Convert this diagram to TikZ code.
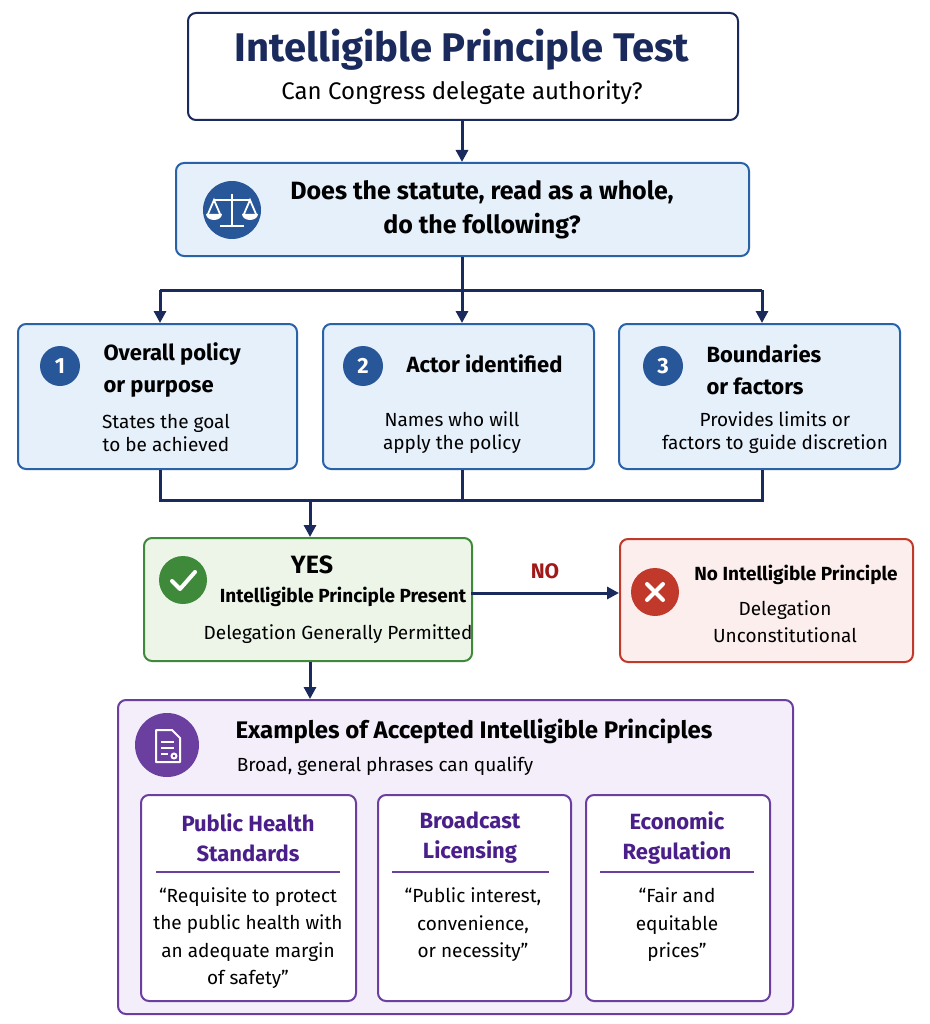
\documentclass[tikz,border=0pt]{standalone}
\usepackage{fontspec}
\setmainfont{Fira Sans}
\usetikzlibrary{positioning, arrows.meta}
\definecolor{navy}{HTML}{1B2A5C}
\definecolor{qblue}{HTML}{2A62A8}
\definecolor{qfill}{HTML}{E6F0FB}
\definecolor{gline}{HTML}{3F8A3A}
\definecolor{gfill}{HTML}{EDF5E8}
\definecolor{rline}{HTML}{C0392B}
\definecolor{rfill}{HTML}{FDEEEE}
\definecolor{pline}{HTML}{6A3FA0}
\definecolor{pfill}{HTML}{F3EEFA}
\definecolor{ptext}{HTML}{4A1F8A}
\definecolor{nored}{HTML}{A01818}
\tikzset{
  box/.style={draw, line width=2pt, rounded corners=8pt, anchor=north west, inner sep=0pt},
  txt/.style={text=black, font=\fontsize{19}{23}\selectfont, align=center},
  head/.style={text=black, font=\bfseries\fontsize{22}{32}\selectfont, align=left},
  badge/.style={circle, fill=qblue!80!navy, text=white, minimum size=40pt, inner sep=0pt, font=\bfseries\fontsize{22}{22}\selectfont},
  flow/.style={draw=navy, line width=3pt},
  arr/.style={flow, -{Triangle[length=12pt,width=12pt]}},
}
\begin{document}
\begin{tikzpicture}[x=1pt, y=-1pt]
\useasboundingbox (0,0) rectangle (929,1024);
% title
\node[box, draw=navy, fill=white, minimum width=550pt, minimum height=107pt] (title) at (187,12) {};
\node[text=navy, font=\bfseries\fontsize{40}{40}\selectfont] (ttl) at (462,50) {Intelligible Principle Test};
\node[txt, font=\fontsize{24}{24}\selectfont] (sub) at (462,93) {Can Congress delegate authority?};
% question
\node[box, draw=qblue, fill=qfill, minimum width=573pt, minimum height=93pt] (q) at (175,162) {};
\node[circle, fill=qblue!80!navy, minimum size=58pt] (scale) at (232,210) {};
\begin{scope}[white, line width=1.8pt]
  \draw (232,194) -- (232,226) (220,226) -- (244,226) (214,200) -- (250,200);
  \draw (208,214) -- (214,200) -- (220,214) (244,214) -- (250,200) -- (256,214);
  \fill (206,214) arc (180:0:8pt and -6pt) -- cycle;
  \fill (242,214) arc (180:0:8pt and -6pt) -- cycle;
\end{scope}
\node[head, align=center, font=\bfseries\fontsize{25}{34}\selectfont] (qt) at (482,210) {Does the statute, read as a whole,\\do the following?};
% three criteria
\foreach \n/\x/\w in {one/17/279, two/322/271, three/618/281}{
  \node[box, draw=qblue, fill=qfill, minimum width=\w pt, minimum height=145pt] (\n) at (\x,323) {};
}
\node[badge] (b1) at (60,366) {1};
\node[badge] (b2) at (363,366) {2};
\node[badge] (b3) at (663,366) {3};
\node[head, anchor=west] (h1) at (100,370) {Overall policy\\or purpose};
\node[head, anchor=west] (h2) at (403,364) {Actor identified};
\node[head, anchor=west] (h3) at (703,370) {Boundaries\\or factors};
\node[txt] (d1) at (166,433) {States the goal\\to be achieved};
\node[txt] (d2) at (452,433) {Names who will\\apply the policy};
\node[txt] (d3) at (775,433) {Provides limits or\\factors to guide discretion};
% branching
\coordinate (qs) at (462,290);
\coordinate (l1) at (160,290);
\coordinate (r1) at (762,290);
\draw[flow] (q.south -| qs) -- (qs);
\draw[flow] (l1) -- (r1);
\draw[arr] (l1) -- (l1 |- one.north);
\draw[arr] (qs) -- (qs |- two.north);
\draw[arr] (r1) -- (r1 |- three.north);
\draw[arr] (title.south -| qs) -- (q.north -| qs);
% join
\coordinate (l2) at (160,500);
\coordinate (m2) at (462,500);
\coordinate (r2) at (762,500);
\coordinate (j2) at (310,500);
\draw[flow] (l2 |- one.south) -- (l2) -- (r2) -- (r2 |- three.south);
\draw[flow] (m2 |- two.south) -- (m2);
% yes
\node[box, draw=gline, fill=gfill, minimum width=328pt, minimum height=123pt] (yes) at (143,537) {};
\draw[arr] (j2) -- (j2 |- yes.north);
\node[circle, fill=gline, minimum size=48pt] (chk) at (183,580) {};
\draw[white, line width=4pt, line cap=round, line join=round] (172,581) -- (180,589) -- (195,572);
\node[head, font=\bfseries\fontsize{25}{25}\selectfont] (yt) at (312,565) {YES};
\node[head, font=\bfseries\fontsize{19}{19}\selectfont] (yp) at (343,597) {Intelligible Principle Present};
\node[txt] (yd) at (338,634) {Delegation Generally Permitted};
% no
\node[box, draw=rline, fill=rfill, minimum width=293pt, minimum height=123pt] (no) at (619,538) {};
\coordinate (ny) at (471,593);
\draw[arr] (ny) -- (ny -| no.west) node[midway, above=9pt, text=nored, font=\bfseries\fontsize{21}{21}\selectfont] {NO};
\node[circle, fill=rline, minimum size=48pt] (xx) at (655,592) {};
\draw[white, line width=4pt, line cap=round] (647,584) -- (663,600) (663,584) -- (647,600);
\node[head, font=\bfseries\fontsize{19}{19}\selectfont] (nt) at (796,575) {No Intelligible Principle};
\node[txt, font=\fontsize{19}{27}\selectfont] (nd) at (785,622) {Delegation\\Unconstitutional};
% examples
\node[box, draw=pline, fill=pfill, minimum width=675pt, minimum height=314pt] (ex) at (117,699) {};
\draw[arr] (j2 |- yes.south) -- (j2 |- ex.north);
\node[circle, fill=pline, minimum size=64pt] (doc) at (167,745) {};
\begin{scope}[white, line width=2pt, line join=round]
  \draw (156,730) -- (172,730) -- (180,738) -- (180,762) -- (156,762) -- cycle;
  \draw (161,742) -- (174,742) (161,748) -- (174,748) (161,754) -- (168,754);
  \draw (174,756) circle (2.5pt);
\end{scope}
\node[head, font=\bfseries\fontsize{24}{24}\selectfont] (et) at (474,731) {Examples of Accepted Intelligible Principles};
\node[txt] (es) at (385,766) {Broad, general phrases can qualify};
\foreach \n/\x/\w in {e1/140/215, e2/377/193, e3/585/184}{
  \node[box, draw=pline, fill=white, minimum width=\w pt, minimum height=206pt] (\n) at (\x,794) {};
}
\tikzset{etitle/.style={text=ptext, font=\bfseries\fontsize{22}{30}\selectfont, align=center}}
\node[etitle] (t1) at (248,838) {Public Health\\Standards};
\node[etitle] (t2) at (470,838) {Broadcast\\Licensing};
\node[etitle] (t3) at (677,838) {Economic\\Regulation};
\draw[pline, line width=1.2pt] (156,872) -- (340,872) (392,872) -- (549,872) (600,872) -- (754,872);
\node[txt, font=\fontsize{19}{27.5}\selectfont] (q1) at (248,938) {“Requisite to protect\\the public health with\\an adequate margin\\of safety”};
\node[txt, font=\fontsize{19}{27.5}\selectfont] (q2) at (473,925) {“Public interest,\\convenience,\\or necessity”};
\node[txt, font=\fontsize{19}{27.5}\selectfont] (q3) at (677,925) {“Fair and\\equitable\\prices”};
\end{tikzpicture}
\end{document}
